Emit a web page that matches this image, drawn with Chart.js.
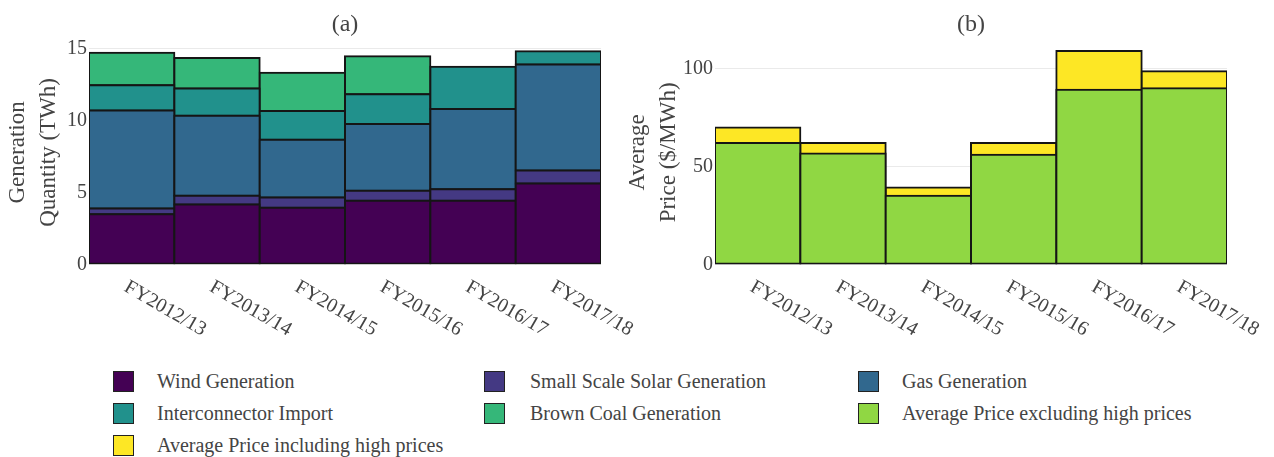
<!DOCTYPE html>
<html>
<head>
<meta charset="utf-8">
<script src="https://cdn.jsdelivr.net/npm/chart.js@4.4.0/dist/chart.umd.min.js"></script>
<style>
  html, body { margin:0; padding:0; background:#fff; width:1274px; height:457px; overflow:hidden; }
  #wrapA { position:absolute; left:0; top:0; width:660px; height:340px; }
  #wrapB { position:absolute; left:620px; top:0; width:654px; height:340px; }
  .mk { position:absolute; width:21px; height:21px; box-sizing:border-box; border:1.5px solid #222; }
  .lt { position:absolute; font-family:"Liberation Serif", serif; font-size:20px; color:#444; line-height:24px; white-space:nowrap; }
</style>
</head>
<body>
<div id="wrapA"><canvas id="chartA" width="660" height="340"></canvas></div>
<div id="wrapB"><canvas id="chartB" width="654" height="340"></canvas></div>
<div id="legend"></div>
<script>
// ---- data ----
const categories = ['FY2012/13', 'FY2013/14', 'FY2014/15', 'FY2015/16', 'FY2016/17', 'FY2017/18'];
const windGen        = [3.49, 4.16, 3.93, 4.42, 4.42, 5.62];
const solarGen       = [0.39, 0.61, 0.72, 0.70, 0.81, 0.91];
const gasGen         = [6.82, 5.58, 4.02, 4.65, 5.59, 7.38];
const interconnector = [1.76, 1.88, 2.01, 2.07, 2.93, 0.93];
const brownCoal      = [2.26, 2.14, 2.65, 2.65, null, null];
const priceExcl      = [62.0, 56.6, 35.0, 56.0, 89.1, 89.9];
const priceIncl      = [69.9, 62.0, 39.2, 62.0, 108.9, 98.6];
const genTicks   = [0, 5, 10, 15];
const priceTicks = [0, 50, 100];
const seriesNames = ['Wind Generation', 'Small Scale Solar Generation', 'Gas Generation',
  'Interconnector Import', 'Brown Coal Generation', 'Average Price excluding high prices',
  'Average Price including high prices'];
const seriesColors = ['#440154', '#443983', '#31688e', '#21918c', '#35b779', '#90d743', '#fde725'];

// ---- styling ----
const FONT = '"Liberation Serif", serif';
const TXT = '#444';
Chart.defaults.font.family = FONT;
Chart.defaults.color = TXT;

const rotatedLabels = {
  id: 'rotatedLabels',
  afterDraw(chart) {
    const xs = chart.scales.x, ctx = chart.ctx;
    ctx.save();
    ctx.font = '20px ' + FONT;
    ctx.fillStyle = TXT;
    ctx.textAlign = 'left';
    ctx.textBaseline = 'middle';
    xs.ticks.forEach((t, i) => {
      const x = xs.getPixelForTick(i);
      ctx.save();
      ctx.translate(x - 6, chart.chartArea.bottom + 21.5);
      ctx.rotate(Math.PI / 6);
      ctx.fillText(categories[i], 0, 0);
      ctx.restore();
    });
    ctx.restore();
  }
};

function barDs(label, data, color) {
  return { label, data, backgroundColor: color, borderColor: '#151515', borderWidth: 2,
           inflateAmount: 1, borderSkipped: false, categoryPercentage: 1, barPercentage: 1 };
}

function makeOptions(title, yTitle, yMax, ticks, yWidth, stackedY, padRight) {
  return {
    responsive: false, animation: false, devicePixelRatio: 1,
    layout: { padding: { left: 0, right: padRight, top: 0, bottom: 0 } },
    plugins: {
      legend: { display: false }, tooltip: { enabled: false },
      title: { display: true, text: title, fullSize: false, color: TXT,
               font: { size: 24, weight: 'normal', lineHeight: 1.2 }, padding: { top: 10.6, bottom: 1.1 } }
    },
    scales: {
      x: { stacked: true, ticks: { display: false }, grid: { display: false }, border: { display: false },
           afterFit: s => { s.height = 340 - 264.3; } },
      y: { stacked: stackedY, min: 0, max: yMax,
           afterBuildTicks: s => { s.ticks = ticks.map(v => ({ value: v })); },
           afterFit: s => { s.width = yWidth; },
           ticks: { font: { size: 20 }, color: TXT, padding: 2 },
           grid: { color: '#eaeaea', lineWidth: 1, drawTicks: false },
           border: { display: false },
           title: { display: true, text: yTitle, color: TXT, font: { size: 23, lineHeight: 1.37 },
                    padding: { top: 2, bottom: 0 } } }
    }
  };
}

new Chart(document.getElementById('chartA'), {
  type: 'bar',
  data: {
    labels: categories,
    datasets: [
      barDs(seriesNames[0], windGen, seriesColors[0]),
      barDs(seriesNames[1], solarGen, seriesColors[1]),
      barDs(seriesNames[2], gasGen, seriesColors[2]),
      barDs(seriesNames[3], interconnector, seriesColors[3]),
      barDs(seriesNames[4], brownCoal, seriesColors[4])
    ]
  },
  options: makeOptions('(a)', ['Generation', 'Quantity (TWh)'], 15.58, genTicks, 89, true, 660 - 601),
  plugins: [rotatedLabels]
});

new Chart(document.getElementById('chartB'), {
  type: 'bar',
  data: {
    labels: categories,
    datasets: [
      barDs(seriesNames[5], priceExcl, seriesColors[5]),
      barDs(seriesNames[6], priceIncl, seriesColors[6])
    ]
  },
  options: makeOptions('(b)', ['Average', 'Price ($/MWh)'], 114.3, priceTicks, 95, false, 654 - 607),
  plugins: [rotatedLabels]
});

// ---- legend ----
const markerX = [113, 484, 858], textX = [157, 530, 902], rowY = [381, 413, 445];
const leg = document.getElementById('legend');
seriesNames.forEach((name, i) => {
  const r = Math.floor(i / 3), c = i % 3;
  const m = document.createElement('div');
  m.className = 'mk';
  m.style.left = markerX[c] + 'px';
  m.style.top = (rowY[r] - 10.5) + 'px';
  m.style.background = seriesColors[i];
  leg.appendChild(m);
  const t = document.createElement('div');
  t.className = 'lt';
  t.style.left = textX[c] + 'px';
  t.style.top = (rowY[r] - 12) + 'px';
  t.textContent = name;
  leg.appendChild(t);
});
</script>
</body>
</html>
